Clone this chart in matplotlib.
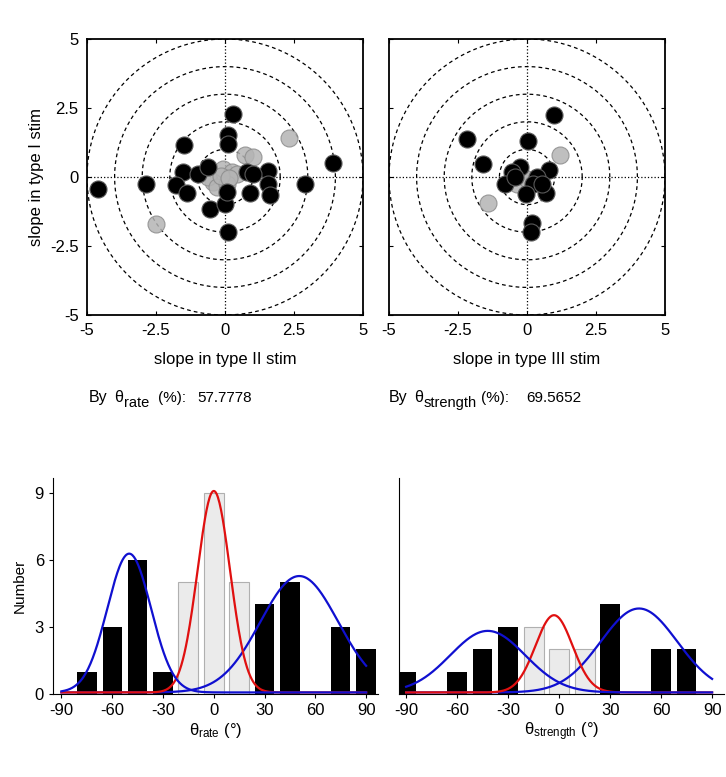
import numpy as np
import matplotlib
matplotlib.use('Agg')
import matplotlib.pyplot as plt

plt.rcParams['font.family'] = ['Liberation Sans', 'DejaVu Sans']
plt.rcParams['mathtext.fontset'] = 'custom'
plt.rcParams['mathtext.rm'] = 'Liberation Sans'
plt.rcParams['mathtext.it'] = 'Liberation Sans:italic'
plt.rcParams['axes.unicode_minus'] = False

# Scatter data: slope pairs (type II, type I) and (type III, type I)
rate_black_x = [0.30, 0.10, 0.10, -1.47, 3.90, -1.51, -0.97, -0.63, 1.57, 1.57, 1.63, 0.91,
                0.79, 1.03, 2.90, -4.59, -2.87, -1.78, -1.36, -0.54, 0.00, 0.06, 0.10]
rate_black_y = [2.29, 1.51, 1.21, 1.15, 0.51, 0.18, 0.10, 0.36, 0.22, -0.24, -0.66, -0.58,
                0.18, 0.12, -0.24, -0.42, -0.27, -0.30, -0.57, -1.15, -0.97, -0.54, -1.99]
rate_gray_x = [2.33, -2.50, 0.72, 1.03, -0.06, -0.42, -0.60, 0.24, 0.42, -0.30, 0.06, -0.15, 0.15]
rate_gray_y = [1.41, -1.69, 0.79, 0.72, 0.30, -0.18, 0.00, 0.18, 0.12, -0.36, -0.24, 0.05, -0.05]

str_black_x = [0.99, -2.17, 0.04, -1.61, 0.79, -0.24, -0.54, -0.79, -0.42, 0.36, 0.22, 0.69,
               -0.04, 0.18, 0.14, 0.54]
str_black_y = [2.26, 1.39, 1.29, 0.48, 0.27, 0.36, 0.18, -0.24, 0.00, 0.00, -0.27, -0.57,
               -0.60, -1.67, -1.99, -0.24]
str_gray_x = [1.21, -1.43, -0.24, -0.36, 0.00, 0.45]
str_gray_y = [0.79, -0.94, 0.18, -0.24, -0.06, -0.15]

# percentages printed under the scatter plots
rate_pct = '57.7778'
str_pct = '69.5652'

# Histogram data (bin centres in degrees, counts)
rate_black_bins = [-75, -60, -45, -30, 30, 45, 75, 90]
rate_black_cnt = [1, 3, 6, 1, 4, 5, 3, 2]
rate_gray_bins = [-15, 0, 15]
rate_gray_cnt = [5, 9, 5]

str_black_bins = [-90, -60, -45, -30, 30, 60, 75]
str_black_cnt = [1, 1, 2, 3, 4, 2, 2]
str_gray_bins = [-15, 0, 15]
str_gray_cnt = [3, 2, 2]

# Gaussian fits: (amplitude, mean, sd, colour)
rate_fits = [(5.2, 50.5, 23.0, '#1010d0'), (9.0, 0.0, 9.6, '#e01010'), (6.2, -50.0, 12.9, '#1010d0')]
str_fits = [(3.75, 47.0, 22.5, '#1010d0'), (3.45, -3.0, 10.9, '#e01010'), (2.75, -42.0, 22.0, '#1010d0')]

fig = plt.figure(figsize=(7.26, 7.77), dpi=100)
W, H = 726, 777


def px_axes(l, t, r, b):
    return fig.add_axes([l / W, 1 - b / H, (r - l) / W, (b - t) / H])


def scatter_panel(ax, bx, by, gx, gy, xlabel, ylabel=None):
    th = np.linspace(0, 2 * np.pi, 400)
    for r in [1, 2, 3, 4, 5]:
        ax.plot(r * np.cos(th), r * np.sin(th), ls=(0, (3, 2.5)), color='black', lw=0.9, zorder=1)
    ax.axhline(0, color='black', ls=':', lw=0.9, zorder=1)
    ax.axvline(0, color='black', ls=':', lw=0.9, zorder=1)
    ax.scatter(gx, gy, s=150, facecolor='#b4b4b4', edgecolor='#8c8c8c', linewidth=0.8,
               alpha=0.85, zorder=2)
    ax.scatter(bx, by, s=150, facecolor='black', edgecolor='#5a5a5a', linewidth=0.8, zorder=3)
    ax.set_xlim(-5, 5)
    ax.set_ylim(-5, 5)
    ax.set_xticks([-5, -2.5, 0, 2.5, 5])
    ax.set_xticklabels(['-5', '-2.5', '0', '2.5', '5'])
    ax.set_yticks([-5, -2.5, 0, 2.5, 5])
    ax.set_yticklabels(['-5', '-2.5', '0', '2.5', '5'])
    ax.tick_params(direction='in', length=3, top=True, right=True, labelsize=12, pad=6)
    for s in ax.spines.values():
        s.set_linewidth(1.3)
    ax.set_xlabel(xlabel, fontsize=12, labelpad=10)
    if ylabel:
        ax.set_ylabel(ylabel, fontsize=12, labelpad=4)
    else:
        ax.set_yticklabels([])


ax1 = px_axes(87, 39, 363, 315)
scatter_panel(ax1, rate_black_x, rate_black_y, rate_gray_x, rate_gray_y,
              'slope in type II stim', 'slope in type I stim')
ax2 = px_axes(389, 39, 665, 315)
scatter_panel(ax2, str_black_x, str_black_y, str_gray_x, str_gray_y, 'slope in type III stim')


def by_label(x0, sub, x_sub, x_pct, x_val, val):
    base = 1 - 402 / H
    fig.text(x0 / W, base, 'By', fontsize=11.5, va='baseline')
    fig.text((x0 + 25) / W, base, 'θ', fontsize=11.5, va='baseline')
    fig.text(x_sub / W, 1 - 407 / H, sub, fontsize=10.5, va='baseline')
    fig.text(x_pct / W, base, '(%):', fontsize=11, va='baseline')
    fig.text(x_val / W, base, val, fontsize=11, va='baseline')


by_label(89, 'rate', 124, 158, 197, rate_pct)
by_label(389, 'strength', 424, 481, 526, str_pct)


def hist_panel(ax, bb, bc, gb, gc, fits, xlim, xlabel, ylabel=None):
    ax.bar(gb, gc, width=11.8, color='#ebebeb', edgecolor='#b0b0b0', linewidth=0.8, zorder=1)
    ax.bar(bb, bc, width=11.5, color='black', zorder=2)
    xs = np.linspace(-90, 90, 400)
    for amp, mu, sd, col in fits:
        ax.plot(xs, amp * np.exp(-(xs - mu) ** 2 / (2 * sd ** 2)) + 0.07, color=col, lw=1.6,
                zorder=3)
    ax.set_xlim(*xlim)
    ax.set_ylim(0, 9.65)
    ax.set_xticks([-90, -60, -30, 0, 30, 60, 90])
    ax.spines['top'].set_visible(False)
    ax.spines['right'].set_visible(False)
    ax.tick_params(labelsize=12, length=3)
    ax.set_xlabel(xlabel, fontsize=12, labelpad=2)
    if ylabel:
        ax.set_yticks([0, 3, 6, 9])
        ax.set_ylabel(ylabel, fontsize=11, labelpad=6)
    else:
        ax.set_yticks([])


ax3 = px_axes(53, 478, 378, 694)
hist_panel(ax3, rate_black_bins, rate_black_cnt, rate_gray_bins, rate_gray_cnt, rate_fits,
           (-95, 97), r'θ$_{\mathrm{rate}}$ (°)', 'Number')
ax4 = px_axes(399, 478, 724, 694)
hist_panel(ax4, str_black_bins, str_black_cnt, str_gray_bins, str_gray_cnt, str_fits,
           (-94.2, 97), r'θ$_{\mathrm{strength}}$ (°)')

fig.savefig('out.png', dpi=100)
